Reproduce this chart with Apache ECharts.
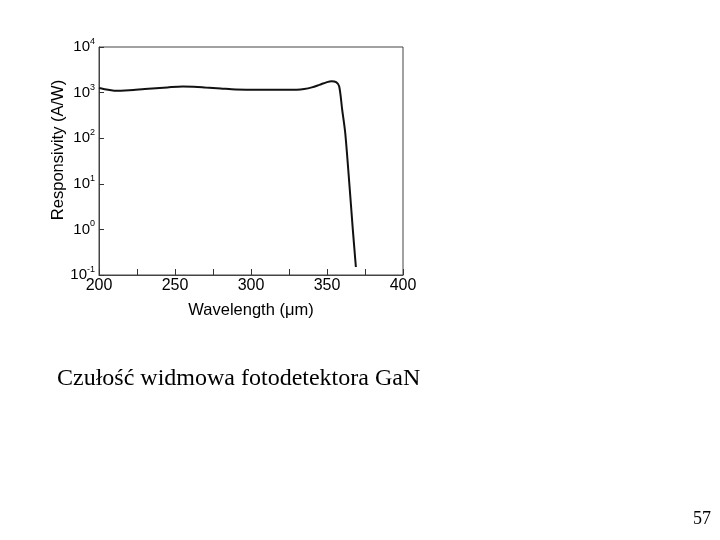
<!DOCTYPE html>
<html><head><meta charset="utf-8">
<script src="https://cdn.jsdelivr.net/npm/echarts@6/dist/echarts.min.js"></script>
<style>html,body{margin:0;padding:0;background:#fff}#c{width:720px;height:540px}</style>
</head><body><div id="c"></div>
<script>
const wavelength = [200, 203, 210, 220, 230, 245, 255, 265, 270, 280, 290, 305, 320, 330, 335, 340, 345, 350, 353, 356, 358, 360, 362, 365, 367, 369];
const responsivity = [1260, 1200, 1100, 1130, 1200, 1300, 1360, 1330, 1290, 1230, 1170, 1150, 1150, 1160, 1200, 1300, 1480, 1700, 1780, 1700, 1380, 420, 130, 7.4, 0.98, 0.15];
const xTicks = [200, 250, 300, 350, 400];
const yExp = {0.1: '-1', 1: '0', 10: '1', 100: '2', 1000: '3', 10000: '4'};
const yName = 'Responsivity (A/W)';
const caption = 'Czułość widmowa fotodetektora GaN';
const pageNo = '57';

const chart = echarts.init(document.getElementById('c'));
chart.setOption({
  animation: false,
  backgroundColor: '#fff',
  grid: {left: 99, top: 47, width: 304, height: 228, show: true, borderColor: '#444', borderWidth: 1},
  xAxis: {
    type: 'value', min: 200, max: 400, interval: 25,
    name: 'Wavelength (μm)', nameLocation: 'middle', nameGap: 27,
    nameTextStyle: {fontFamily: 'Liberation Sans', fontSize: 16.5, color: '#000'},
    axisLine: {lineStyle: {color: '#444', width: 1}},
    axisTick: {inside: true, length: 6, lineStyle: {color: '#333'}},
    splitLine: {show: false},
    axisLabel: {fontFamily: 'Liberation Sans', fontSize: 16, color: '#000', margin: 3,
      formatter: v => xTicks.includes(v) ? String(v) : ''}
  },
  yAxis: {
    type: 'log', logBase: 10, min: 0.1, max: 10000,
    axisLine: {lineStyle: {color: '#444', width: 1}},
    axisTick: {inside: true, length: 5, lineStyle: {color: '#333'}},
    splitLine: {show: false},
    axisLabel: {margin: 4,
      formatter: v => {
        const k = Object.keys(yExp).find(key => Math.abs(Math.log10(+key) - Math.log10(v)) < 1e-6);
        return '{b|10}{s|' + (k ? yExp[k] : '') + '}';
      },
      rich: {
        b: {fontFamily: 'Liberation Sans', fontSize: 15, color: '#000'},
        s: {fontFamily: 'Liberation Sans', fontSize: 9, color: '#000', verticalAlign: 'bottom', padding: [0, 0, 11, 0]}
      }
    }
  },
  series: [{
    type: 'line', smooth: 0.3, symbol: 'none',
    lineStyle: {color: '#111', width: 2},
    data: wavelength.map((w, i) => [w, responsivity[i]])
  }],
  graphic: [
    {type: 'text', x: 58, y: 150, rotation: Math.PI / 2,
      style: {text: yName, fontFamily: 'Liberation Sans', fontSize: 16.5, fill: '#000', align: 'center', verticalAlign: 'middle'}},
    {type: 'text', left: 57, top: 367, style: {text: caption, fontFamily: 'Liberation Serif', fontSize: 24, fill: '#000'}},
    {type: 'text', left: 693, top: 510, style: {text: pageNo, fontFamily: 'Liberation Serif', fontSize: 18, fill: '#000'}}
  ]
});
</script></body></html>
